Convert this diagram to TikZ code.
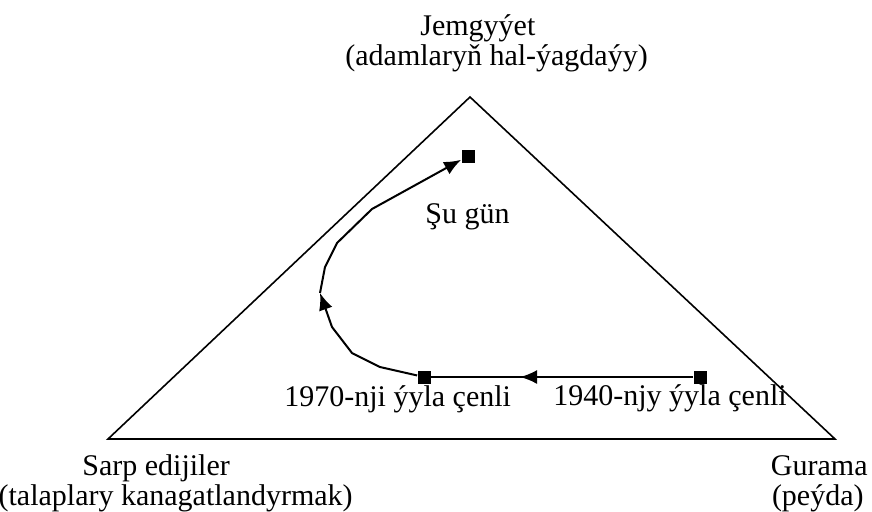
\documentclass[tikz,border=0pt]{standalone}
\usepackage{fontspec}
\setmainfont{Liberation Serif}
\usepackage{tikz}
\usetikzlibrary{arrows.meta}
\usetikzlibrary{decorations.markings}
\tikzset{
  label text/.style={inner sep=0pt, anchor=base west, font=\fontsize{15}{15}\selectfont},
  marker/.style={rectangle, fill=black, inner sep=0pt, minimum size=6.5pt},
  path arrow/.style={black, line width=1pt, -{Latex[length=8.5pt,width=7pt]}},
  mid arrow/.style={black, line width=1pt, decoration={markings,
      mark=at position 0.66 with {\arrow{Latex[length=8.5pt,width=7pt]}}}, postaction={decorate}}
}
\begin{document}
\begin{tikzpicture}[x=0.5pt,y=-0.5pt]
    \useasboundingbox (0,0) rectangle (872,511);
    \draw[black, line width=0.8pt, line join=miter] (108,439) -- (470,97) -- (835,439) -- cycle;
    \node[label text] (top1) at (420,35) {Jemgyýet};
    \node[label text] (top2) at (345,65) {(adamlaryň hal-ýagdaýy)};
    \node[label text] (left1) at (82,475) {Sarp edijiler};
    \node[label text, anchor=base east] (left2) at (353,505) {(talaplary kanagatlandyrmak)};
    \node[label text, anchor=base east] (right1) at (868,475) {Gurama};
    \node[label text, anchor=base east] (right2) at (864,505) {(peýda)};
    \node[marker] (y1940) at (700,377) {};
    \node[marker] (y1970) at (424,377) {};
    \node[marker] (now) at (468,156) {};
    \node[label text] (t1940) at (553,405) {1940-njy ýyla çenli};
    \node[label text] (t1970) at (284,406) {1970-nji ýyla çenli};
    \node[label text] (tnow) at (425,223) {Şu gün};
    \coordinate (bend) at (320,293);
    \draw[mid arrow] (y1940) -- (y1970);
    \draw[path arrow] (y1970) -- (380,367) -- (352,353) -- (332,327) -- (bend);
    \draw[path arrow] (bend) -- (325,267) -- (337,243) -- (372,209) -- (now);
\end{tikzpicture}
\end{document}
